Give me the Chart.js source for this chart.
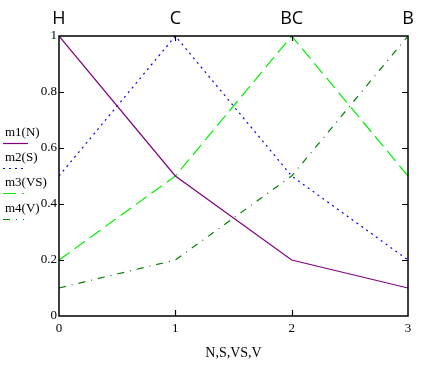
<!DOCTYPE html>
<html>
<head>
<meta charset="utf-8">
<script src="https://cdn.jsdelivr.net/npm/chart.js@4"></script>
<style>
  body { margin: 0; background: #fff; }
  canvas { display: block; }
</style>
</head>
<body>
<canvas id="c" width="445" height="366"></canvas>
<script>
// data
var xs = [0, 1, 2, 3];
var topLabels = ['H', 'C', 'BC', 'B'];
var yTickLabels = ['0', '0.2', '0.4', '0.6', '0.8', '1'];
var m1 = [1, 0.5, 0.2, 0.1];
var m2 = [0.5, 1, 0.5, 0.2];
var m3 = [0.2, 0.5, 1, 0.5];
var m4 = [0.1, 0.2, 0.5, 1];
var names = ['m1(N)', 'm2(S)', 'm3(VS)', 'm4(V)'];
var xTitle = 'N,S,VS,V';

function pts(ys){
  var out = [];
  for (var i = 0; i < xs.length; i++) out.push({x: xs[i], y: ys[i]});
  return out;
}

var serif = '"Liberation Serif", "DejaVu Serif", serif';

// frame, inward ticks and the left-hand legend
var mathcadBits = {
  id: 'mathcadBits',
  afterDraw: function(chart){
    var ctx = chart.ctx, a = chart.chartArea;
    var sx = chart.scales.x, sy = chart.scales.y;
    ctx.save();
    ctx.strokeStyle = '#000';
    ctx.lineWidth = 1.5;
    ctx.strokeRect(a.left, a.top, a.right - a.left, a.bottom - a.top);
    ctx.lineWidth = 1.2;
    ctx.beginPath();
    sy.ticks.forEach(function(t){
      if (t.value <= 0 || t.value >= 1) return;
      var y = Math.round(sy.getPixelForValue(t.value)) + 0.5;
      ctx.moveTo(a.left, y); ctx.lineTo(a.left + 5, y);
      ctx.moveTo(a.right, y); ctx.lineTo(a.right - 6, y);
    });
    sx.ticks.forEach(function(t){
      if (t.value <= 0 || t.value >= 3) return;
      var x = Math.round(sx.getPixelForValue(t.value)) + 0.5;
      ctx.moveTo(x, a.bottom); ctx.lineTo(x, a.bottom - 6);
      ctx.moveTo(x, a.top); ctx.lineTo(x, a.top + 5);
    });
    ctx.stroke();

    // legend: name, then a sample of the line under it
    var rows = [133, 158, 183, 209];
    ctx.font = '13px ' + serif;
    ctx.fillStyle = '#000';
    ctx.textBaseline = 'middle';
    ctx.textAlign = 'left';
    chart.data.datasets.forEach(function(ds, i){
      ctx.fillText(names[i], 5, rows[i]);
      ctx.strokeStyle = ds.borderColor;
      ctx.lineWidth = 1.2;
      ctx.setLineDash(ds.borderDash || []);
      ctx.beginPath();
      var ly = rows[i] + 10.5;
      ctx.moveTo(3, ly); ctx.lineTo(i == 0 ? 28 : 24, ly);
      ctx.stroke();
    });
    ctx.restore();
  }
};

chart = new Chart(document.getElementById('c'), {
  type: 'line',
  data: {
    datasets: [
      {label: names[0], data: pts(m1), borderColor: '#800080', borderWidth: 1.2, borderDash: []},
      {label: names[1], data: pts(m2), borderColor: '#0000ff', borderWidth: 1.2, borderDash: [2, 4]},
      {label: names[2], data: pts(m3), borderColor: '#00f000', borderWidth: 1.2, borderDash: [13, 6]},
      {label: names[3], data: pts(m4), borderColor: '#008000', borderWidth: 1.2, borderDash: [7, 6, 1, 6]}
    ]
  },
  options: {
    responsive: false,
    animation: false,
    layout: {padding: {left: 0, right: 37, top: 0, bottom: 0}},
    elements: {point: {radius: 0}, line: {tension: 0}},
    plugins: {legend: {display: false}, tooltip: {enabled: false}},
    scales: {
      x: {
        type: 'linear', position: 'bottom', min: 0, max: 3,
        grid: {display: false, drawTicks: false}, border: {display: false},
        ticks: {stepSize: 1, padding: 5, color: '#000', font: {family: serif, size: 13}},
        title: {display: true, text: xTitle, color: '#000', font: {family: serif, size: 14}, padding: {top: 6}},
        afterFit: function(s){ s.height = 50; }
      },
      xTop: {
        type: 'linear', position: 'top', min: 0, max: 3,
        grid: {display: false, drawTicks: false}, border: {display: false},
        ticks: {
          stepSize: 1, padding: 6, color: '#000',
          font: {family: '"Open Sans", "DejaVu Sans", sans-serif', size: 18},
          callback: function(v){ return topLabels[v]; }
        },
        afterFit: function(s){ s.height = 36; }
      },
      y: {
        min: 0, max: 1,
        grid: {display: false, drawTicks: false}, border: {display: false},
        ticks: {
          stepSize: 0.2, padding: 2, color: '#000', font: {family: serif, size: 13},
          callback: function(v, i){ return yTickLabels[i]; }
        },
        afterFit: function(s){ s.width = 59; }
      }
    }
  },
  plugins: [mathcadBits]
});
</script>
</body>
</html>
